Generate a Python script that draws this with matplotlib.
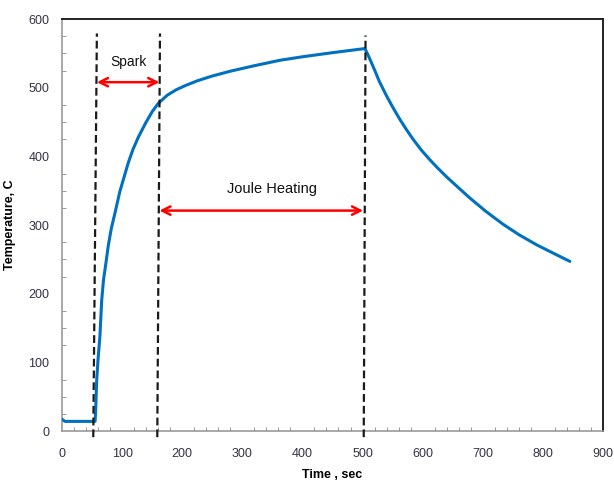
import matplotlib
matplotlib.use("Agg")
import matplotlib.pyplot as plt
from matplotlib.ticker import MultipleLocator
import numpy as np

plt.rcParams['font.family'] = ['Liberation Sans', 'DejaVu Sans']

time_s = [0, 5, 20, 40, 55, 56, 57.7, 60, 63, 66, 69, 72, 77, 82, 88, 96, 104, 110, 118, 127, 140,
          150, 160, 175, 190, 205, 225, 250, 280, 320, 363, 400, 450, 504,
          510, 518, 528, 540, 550, 562, 573, 584, 597, 612, 625, 640, 660, 679, 705, 734, 760, 790,
          815, 845]
temp_c = [17, 14, 14, 14, 14, 30, 74, 105, 137, 190, 220, 238, 270, 295, 317, 348, 372, 390, 410, 428, 450,
          465, 477, 489, 497, 503, 510, 517, 524, 532, 540, 545, 551, 557,
          546, 530, 509, 488, 472, 454, 439, 425, 410, 395, 383, 370, 354, 339, 320, 301, 286, 271,
          260, 247]

# phase boundary lines: (x at top, x at bottom)
boundaries_top = [58, 163, 505]
boundaries_bottom = [52, 158.5, 502]
boundary_top_y = [579, 579, 576]

spark_range = (58, 162)
joule_range = (162, 501)

fig = plt.figure(figsize=(6.14, 4.84), dpi=100)
ax = fig.add_axes([0.101, 0.1095, 0.881, 0.8512])

ax.plot(time_s, temp_c, color='#0070C0', lw=2.2, solid_capstyle='round', solid_joinstyle='round', zorder=3)

for xt, xb, yt in zip(boundaries_top, boundaries_bottom, boundary_top_y):
    ax.plot([xb, xt], [-9, yt], color='#1a1a1a', lw=1.6, ls=(0, (3.5, 1.8)), clip_on=False, zorder=4)

ax.annotate('', xy=(spark_range[0], 508), xytext=(spark_range[1], 508),
            arrowprops=dict(arrowstyle='<->,head_length=0.6,head_width=0.3', color='#FF0000', lw=1.8,
                            shrinkA=0, shrinkB=0))
ax.annotate('', xy=(joule_range[0], 321), xytext=(joule_range[1], 321),
            arrowprops=dict(arrowstyle='<->,head_length=0.6,head_width=0.3', color='#FF0000', lw=1.8,
                            shrinkA=0, shrinkB=0))
ax.text(111, 538, 'Spark', ha='center', va='center', fontsize=10, color='#111111')
ax.text(350, 352, 'Joule Heating', ha='center', va='center', fontsize=10.5, color='#111111')

ax.set_xlim(0, 900)
ax.set_ylim(0, 600)
ax.xaxis.set_major_locator(MultipleLocator(100))
ax.xaxis.set_minor_locator(MultipleLocator(20))
ax.yaxis.set_major_locator(MultipleLocator(100))
ax.yaxis.set_minor_locator(MultipleLocator(25))
ax.tick_params(axis='both', which='both', direction='in', colors='#888888', labelcolor='#333344',
               labelsize=9)
ax.tick_params(which='major', length=0)
ax.tick_params(which='minor', length=3)
ax.tick_params(axis='x', pad=12)
ax.tick_params(axis='y', pad=9)

for s in ['left', 'bottom']:
    ax.spines[s].set_color('#999999')
    ax.spines[s].set_linewidth(1.2)
for s in ['top', 'right']:
    ax.spines[s].set_color('#222222')
    ax.spines[s].set_linewidth(1.4)

ax.set_xlabel('Time , sec', fontsize=9, fontweight='bold', labelpad=7)
ax.set_ylabel('Temperature, C', fontsize=9, fontweight='bold', labelpad=9)

fig.savefig('out.png', dpi=100)
